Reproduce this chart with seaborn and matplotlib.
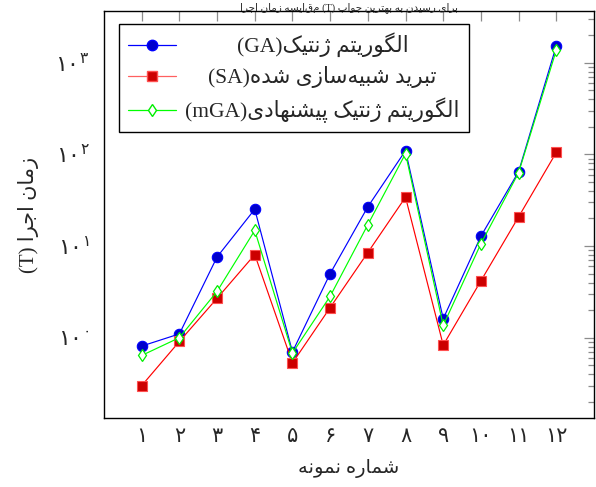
import numpy as np
import pandas as pd
import matplotlib
matplotlib.use("Agg")
import matplotlib.pyplot as plt
import seaborn as sns
from matplotlib.ticker import FixedLocator, FixedFormatter, LogLocator, NullFormatter
from matplotlib.lines import Line2D

# ---------------- data ----------------
samples = list(range(1, 13))
ga_times = [0.81, 1.10, 7.6, 25.2, 0.70, 5.0, 26.8, 110, 1.61, 12.8, 64.7, 1527]
sa_times = [0.30, 0.91, 2.69, 8.07, 0.53, 2.13, 8.5, 34.1, 0.83, 4.17, 20.8, 105]
mga_times = [0.64, 1.00, 3.2, 14.8, 0.68, 2.83, 17.1, 102, 1.36, 10.6, 63, 1370]
xtick_labels = ["۱", "۲", "۳", "۴", "۵", "۶", "۷", "۸", "۹", "۱۰", "۱۱", "۱۲"]
ytick_values = [1, 10, 100, 1000]
ytick_exps = ["۰", "۱", "۲", "۳"]

# ---------------- simple Persian shaping (matplotlib has no RTL shaping) ----------------
FORMS = {
    "ا": ("\uFE8D", "\uFE8E"),
    "د": ("\uFEA9", "\uFEAA"),
    "ر": ("\uFEAD", "\uFEAE"),
    "ز": ("\uFEAF", "\uFEB0"),
    "ژ": ("\uFB8A", "\uFB8B"),
    "و": ("\uFEED", "\uFEEE"),
    "ب": ("\uFE8F", "\uFE90", "\uFE91", "\uFE92"),
    "ت": ("\uFE95", "\uFE96", "\uFE97", "\uFE98"),
    "ج": ("\uFE9D", "\uFE9E", "\uFE9F", "\uFEA0"),
    "س": ("\uFEB1", "\uFEB2", "\uFEB3", "\uFEB4"),
    "ش": ("\uFEB5", "\uFEB6", "\uFEB7", "\uFEB8"),
    "ل": ("\uFEDD", "\uFEDE", "\uFEDF", "\uFEE0"),
    "م": ("\uFEE1", "\uFEE2", "\uFEE3", "\uFEE4"),
    "ن": ("\uFEE5", "\uFEE6", "\uFEE7", "\uFEE8"),
    "ه": ("\uFEE9", "\uFEEA", "\uFEEB", "\uFEEC"),
    "ی": ("\uFBFC", "\uFBFD", "\uFBFE", "\uFBFF"),
    "ک": ("\uFB8E", "\uFB8F", "\uFB90", "\uFB91"),
    "گ": ("\uFB92", "\uFB93", "\uFB94", "\uFB95"),
    "پ": ("\uFB56", "\uFB57", "\uFB58", "\uFB59"),
}


def shape(s):
    out = []
    n = len(s)
    for i, c in enumerate(s):
        if c not in FORMS:
            if c == "\u200c":
                continue
            out.append(c)
            continue
        f = FORMS[c]
        prev = s[i - 1] if i > 0 else None
        nxt = s[i + 1] if i + 1 < n else None
        jp = prev is not None and prev in FORMS and len(FORMS[prev]) == 4
        jn = len(f) == 4 and nxt is not None and nxt in FORMS
        if jp and jn:
            out.append(f[3])
        elif jp:
            out.append(f[1])
        elif jn:
            out.append(f[2])
        else:
            out.append(f[0])
    return "".join(out)


def vis(s):
    return shape(s)[::-1]


label_ga = "(GA)" + vis("الگوریتم ژنتیک")
label_sa = "(SA)" + vis("تبرید شبیه\u200cسازی شده")
label_mga = "(mGA)" + vis("الگوریتم ژنتیک پیشنهادی")
xlabel = vis("شماره نمونه")
ylabel = "(T) " + vis("زمان اجرا")
title = vis("مقایسه زمان اجرا") + " (T) " + vis("برای رسیدن به بهترین جواب")

df = pd.DataFrame({"sample": samples, "GA": ga_times, "SA": sa_times, "mGA": mga_times})

# ---------------- style ----------------
sns.set_style("white")
fams = ["Liberation Serif", "DejaVu Sans"]
plt.rcParams["font.family"] = fams
plt.rcParams["mathtext.fontset"] = "custom"
plt.rcParams["mathtext.rm"] = "DejaVu Sans"
plt.rcParams["mathtext.it"] = "DejaVu Sans"
plt.rcParams["mathtext.bf"] = "DejaVu Sans:bold"

fig = plt.figure(figsize=(5.96, 4.87), dpi=100)
ax = fig.add_axes([0.1745, 0.1417, 0.8221, 0.8357])

sns.lineplot(data=df, x="sample", y="GA", ax=ax, color="#0000ff", linewidth=0.85,
             marker="o", markersize=7.5, markerfacecolor="#0000cc",
             markeredgecolor="#0000ff", markeredgewidth=0.8, legend=False)
sns.lineplot(data=df, x="sample", y="SA", ax=ax, color="#ff0000", linewidth=0.85,
             marker="s", markersize=7.5, markerfacecolor="#cc0000",
             markeredgecolor="#ff5050", markeredgewidth=0.8, legend=False)
sns.lineplot(data=df, x="sample", y="mGA", ax=ax, color="#00ff00", linewidth=0.85,
             marker="d", markersize=6.5, markerfacecolor="white",
             markeredgecolor="#00ee00", markeredgewidth=0.9, legend=False)

ax.set_yscale("log")
ax.set_xlim(0, 13)
ax.set_ylim(10 ** -0.876, 10 ** 3.564)

ax.xaxis.set_major_locator(FixedLocator(samples))
ax.xaxis.set_major_formatter(FixedFormatter(xtick_labels))
ax.yaxis.set_major_locator(FixedLocator(ytick_values))
ax.yaxis.set_major_formatter(FixedFormatter(
    [r"$\mathrm{۱۰^{%s}}$" % e for e in ytick_exps]))
ax.yaxis.set_minor_locator(LogLocator(base=10, subs=np.arange(2, 10)))
ax.yaxis.set_minor_formatter(NullFormatter())

ax.tick_params(which="both", direction="in", top=True, right=True, color="#8c8c8c", width=0.9)
ax.tick_params(which="major", length=7.5)
ax.tick_params(which="minor", length=4.5)
ax.tick_params(axis="x", which="major", labelsize=15, pad=7.5)
ax.tick_params(axis="y", which="major", labelsize=16, pad=10.5)
for lab in ax.get_xticklabels():
    lab.set_family(fams)

for s in ax.spines.values():
    s.set_color("black")
    s.set_linewidth(1.0)

ax.set_xlabel(xlabel, fontsize=14, labelpad=8)
ax.set_ylabel(ylabel, fontsize=15, labelpad=12)
ax.set_title(title, fontsize=7.5, pad=1)

handles = [
    Line2D([], [], color="#0000ff", lw=0.9, marker="o", ms=7.5, mfc="#0000cc", mec="#0000ff"),
    Line2D([], [], color="#ff6060", lw=0.9, marker="s", ms=7.5, mfc="#cc0000", mec="#ff5050"),
    Line2D([], [], color="#00ff00", lw=0.9, marker="d", ms=6.5, mfc="white", mec="#00ee00"),
]
leg = ax.legend(handles, [label_ga, label_sa, label_mga], loc="upper left",
                bbox_to_anchor=(0.031, 0.969), prop={"family": fams, "size": 15.5},
                frameon=True, fancybox=False, edgecolor="black", framealpha=1,
                handlelength=2.2, handletextpad=0.45, borderpad=0.42, labelspacing=0.42,
                borderaxespad=0)
leg.get_frame().set_linewidth(1.0)

# center the legend texts in their column
fig.canvas.draw()
r = fig.canvas.get_renderer()
texts = leg.get_texts()
widths = [t.get_window_extent(r).width for t in texts]
mw = max(widths)
for t, w in zip(texts, widths):
    t.set_position(((mw - w) / 2, 0))

fig.savefig("out.png", dpi=100)
